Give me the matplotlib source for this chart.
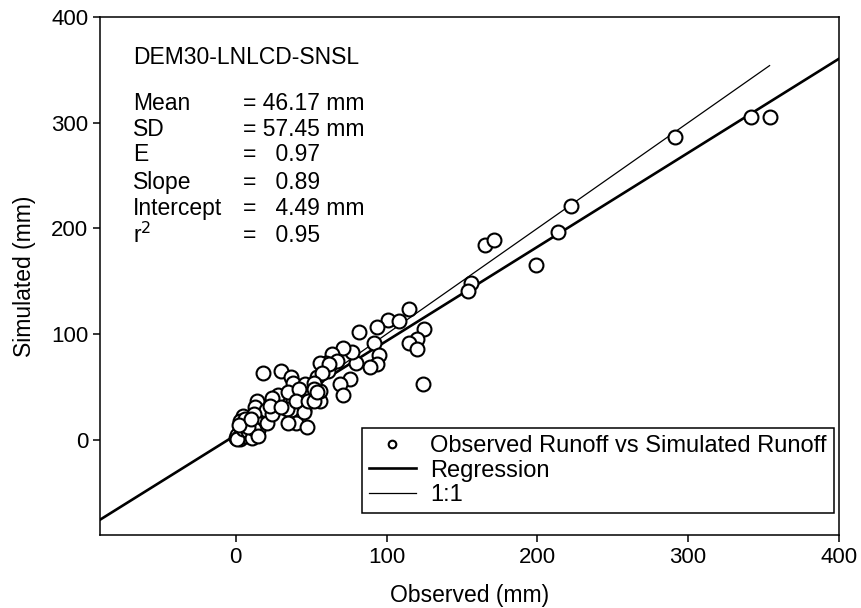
import numpy as np
import matplotlib
matplotlib.use("Agg")
import matplotlib.pyplot as plt

plt.rcParams['font.family'] = ['Liberation Sans', 'DejaVu Sans']

# observed vs simulated runoff (mm)
observed = [342, 354, 291, 222, 214, 199, 165, 171, 156, 154,
            115, 101, 108, 94, 82, 125, 120, 115, 120, 124,
            92, 95, 94, 89, 80, 77, 71, 64, 67, 60, 61, 76, 69, 71,
            56, 62, 18, 30, 37, 38, 46, 54, 57, 56, 56, 52, 46, 45, 37, 28,
            24, 38, 14, 13, 20, 34, 5, 12, 10, 9, 3, 0, 3, 16, 15, 21,
            24, 23, 30, 40, 47, 45, 35, 42, 40, 48, 52, 52, 6, 1, 35, 54,
            2, 4, 7, 1, 5, 8, 11, 12, 3, 6, 8, 2, 10, 15]
simulated = [305, 305, 286, 221, 197, 165, 184, 189, 148, 141,
             124, 113, 112, 107, 102, 105, 95, 92, 86, 53,
             92, 80, 72, 69, 73, 83, 87, 81, 75, 73, 65, 58, 53, 42,
             73, 72, 63, 65, 59, 54, 53, 59, 63, 37, 46, 54, 43, 28, 28, 42,
             40, 37, 37, 31, 28, 29, 23, 24, 13, 5, 9, 2, 1, 15, 9, 16,
             24, 32, 31, 16, 12, 26, 45, 48, 37, 37, 48, 37, 15, 5, 16, 45,
             3, 6, 4, 1, 10, 8, 2, 10, 18, 20, 12, 14, 20, 4]

slope = 0.89
intercept = 4.49

stat_names = ["Mean", "SD", "E", "Slope", "Intercept", "r$^2$"]
stat_values = ["= 46.17 mm", "= 57.45 mm", "=   0.97", "=   0.89", "=   4.49 mm", "=   0.95"]

fig = plt.figure(figsize=(8.61, 6.08), dpi=100)
ax = fig.add_axes([0.1161, 0.1201, 0.8583, 0.852])

ax.plot(observed, simulated, 'o', ms=10, mfc='white', mec='black', mew=1.5,
        label="Observed Runoff vs Simulated Runoff", zorder=3)

xr = np.array([-90, 400])
ax.plot(xr, slope * xr + intercept, color='black', lw=1.9, label="Regression", zorder=2)

x11 = np.array([min(observed), max(observed)])
ax.plot(x11, x11, color='black', lw=0.9, label="1:1", zorder=2)

ax.set_xlim(-90, 400)
ax.set_ylim(-90, 400)
ax.set_xticks([0, 100, 200, 300, 400])
ax.set_yticks([0, 100, 200, 300, 400])
ax.tick_params(direction='out', length=5, width=1.1, labelsize=16, top=False, right=False)
for s in ax.spines.values():
    s.set_linewidth(1.1)

ax.set_xlabel("Observed (mm)", fontsize=16.5, labelpad=12)
ax.set_ylabel("Simulated (mm)", fontsize=16.5, labelpad=11)

ax.text(0.0447, 0.921, "DEM30-LNLCD-SNSL", transform=ax.transAxes, fontsize=16.5, va='center')
ys = [0.832, 0.782, 0.734, 0.681, 0.631, 0.579]
for name, val, y in zip(stat_names, stat_values, ys):
    ax.text(0.0447, y, name, transform=ax.transAxes, fontsize=16.5, va='center')
    ax.text(0.1935, y, val, transform=ax.transAxes, fontsize=16.5, va='center')

leg = ax.legend(loc='lower right', bbox_to_anchor=(0.993, 0.0425), borderaxespad=0,
                fontsize=17, markerscale=0.55, handlelength=2.0, handletextpad=0.6,
                labelspacing=0.1, borderpad=0.3, fancybox=False, framealpha=1,
                edgecolor='black')
leg.get_frame().set_linewidth(1.1)

plt.savefig("out.png", dpi=100)
